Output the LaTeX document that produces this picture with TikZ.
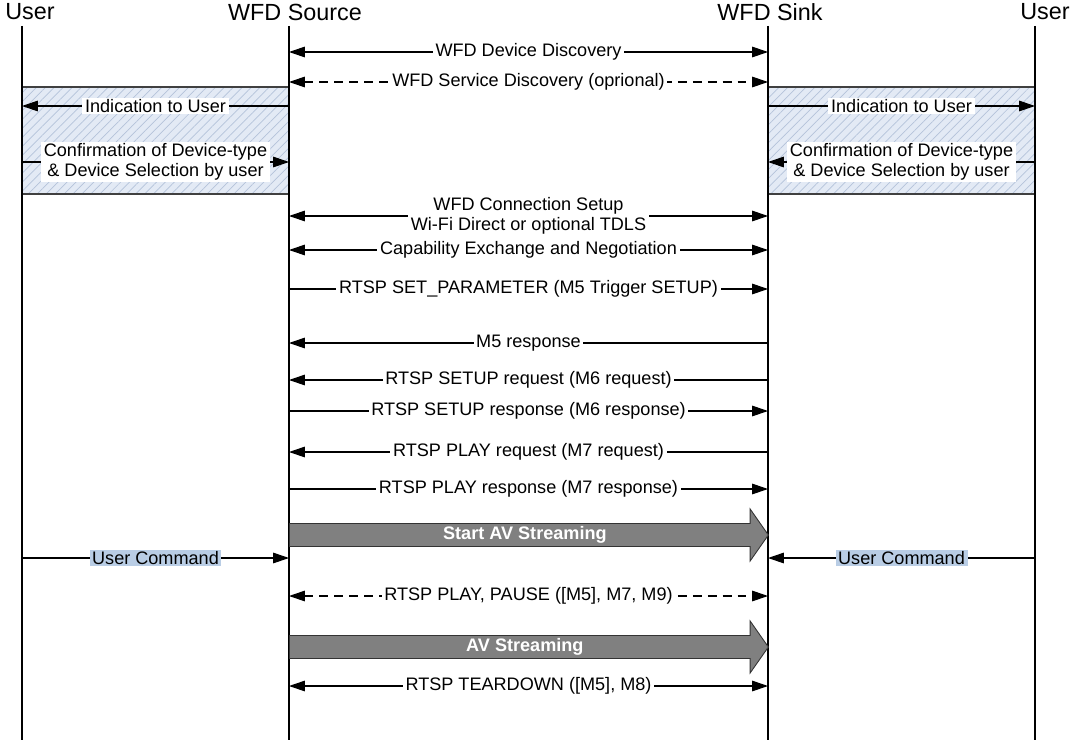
\documentclass[tikz,border=0pt]{standalone}
\usepackage{fontspec}
\setmainfont{Liberation Sans}
\usetikzlibrary{arrows.meta, shapes.arrows, patterns.meta, positioning}

\definecolor{hatchbg}{HTML}{E3EAF5}
\definecolor{hatchline}{HTML}{B4C3DA}
\definecolor{cmdblue}{HTML}{B9CDE5}

\begin{document}
\begin{tikzpicture}[x=0.02cm, y=-0.02cm]
\tikzstyle{actor} = [font=\fontsize{13.3}{15}\selectfont, inner sep=0pt]
\tikzstyle{life} = [draw=black, line width=0.6pt]
\tikzstyle{msg} = [line width=0.6pt, >={Triangle[length=9pt, width=6pt]}]
\tikzstyle{opt} = [msg, dash pattern=on 5pt off 3.5pt]
\tikzstyle{lbl} = [fill=white, font=\fontsize{10.3}{11.5}\selectfont, inner xsep=1.5pt, inner ysep=1pt, align=center]
\tikzstyle{cmd} = [lbl, fill=cmdblue]
\tikzstyle{hatchbox} = [preaction={fill=hatchbg}, preaction={pattern={Lines[angle=45, distance=3.6pt, line width=0.4pt]}, pattern color=hatchline}, draw=black!75, line width=0.6pt]
\tikzstyle{bigarrow} = [single arrow, draw=black!80, fill=black!50, line width=0.5pt, minimum height=9.58cm, minimum width=1.04cm, single arrow head extend=0.27cm, single arrow tip angle=110, text=white, font=\bfseries\fontsize{10.3}{12}\selectfont, inner sep=1pt, anchor=tail]

\useasboundingbox (0,0) rectangle (1077,750);

% lifelines
\coordinate (uL) at (22,26);
\coordinate (src) at (289,26);
\coordinate (snk) at (768,26);
\coordinate (uR) at (1035,26);

\node (uLhead) [actor] at (30,12) {User};
\node (srchead) [actor] at (295,12) {WFD Source};
\node (snkhead) [actor] at (770,12) {WFD Sink};
\node (uRhead) [actor] at (1045,12) {User};

% user interaction boxes
\draw[hatchbox] (uL |- 0,87) rectangle (src |- 0,194);
\draw[hatchbox] (snk |- 0,87) rectangle (uR |- 0,194);

\draw[life] (uL) -- (uL |- 0,740);
\draw[life] (src) -- (src |- 0,740);
\draw[life] (snk) -- (snk |- 0,740);
\draw[life] (uR) -- (uR |- 0,740);

% discovery
\draw[msg, <->] (src |- 0,52) -- node[lbl] {WFD Device Discovery} (snk |- 0,52);
\draw[opt, <->] (src |- 0,82) -- node[lbl] {WFD Service Discovery (oprional)} (snk |- 0,82);

\draw[msg, ->] (src |- 0,106) -- node[lbl] {Indication to User} (uL |- 0,106);
\draw[msg, ->] (snk |- 0,106) -- node[lbl] {Indication to User} (uR |- 0,106);
\draw[msg, ->] (uL |- 0,162) -- node[lbl] {Confirmation of Device-type\\\& Device Selection by user} (src |- 0,162);
\draw[msg, ->] (uR |- 0,162) -- node[lbl] {Confirmation of Device-type\\\& Device Selection by user} (snk |- 0,162);

% connection and capability negotiation
\draw[msg, <->] (src |- 0,216) -- node[lbl] {WFD Connection Setup\\Wi-Fi Direct or optional TDLS} (snk |- 0,216);
\draw[msg, <->] (src |- 0,250) -- node[lbl] {Capability Exchange and Negotiation} (snk |- 0,250);

% RTSP session setup
\draw[msg, ->] (src |- 0,289) -- node[lbl] {RTSP SET\_PARAMETER (M5 Trigger SETUP)} (snk |- 0,289);
\draw[msg, ->] (snk |- 0,343) -- node[lbl] {M5 response} (src |- 0,343);
\draw[msg, ->] (snk |- 0,380) -- node[lbl] {RTSP SETUP request (M6 request)} (src |- 0,380);
\draw[msg, ->] (src |- 0,411) -- node[lbl] {RTSP SETUP response (M6 response)} (snk |- 0,411);
\draw[msg, ->] (snk |- 0,452) -- node[lbl] {RTSP PLAY request (M7 request)} (src |- 0,452);
\draw[msg, ->] (src |- 0,489) -- node[lbl] {RTSP PLAY response (M7 response)} (snk |- 0,489);

% streaming
\node (startav) [bigarrow] at (src |- 0,535) {Start AV Streaming};

\draw[msg, ->] (uL |- 0,558) -- node[cmd] {User Command} (src |- 0,558);
\draw[msg, ->] (uR |- 0,558) -- node[cmd] {User Command} (snk |- 0,558);

\draw[opt, <->] (src |- 0,596) -- node[lbl] {RTSP PLAY, PAUSE ([M5], M7, M9)} (snk |- 0,596);

\node (av) [bigarrow] at (src |- 0,647) {AV Streaming};

\draw[msg, <->] (src |- 0,686) -- node[lbl] {RTSP TEARDOWN ([M5], M8)} (snk |- 0,686);

\end{tikzpicture}
\end{document}
